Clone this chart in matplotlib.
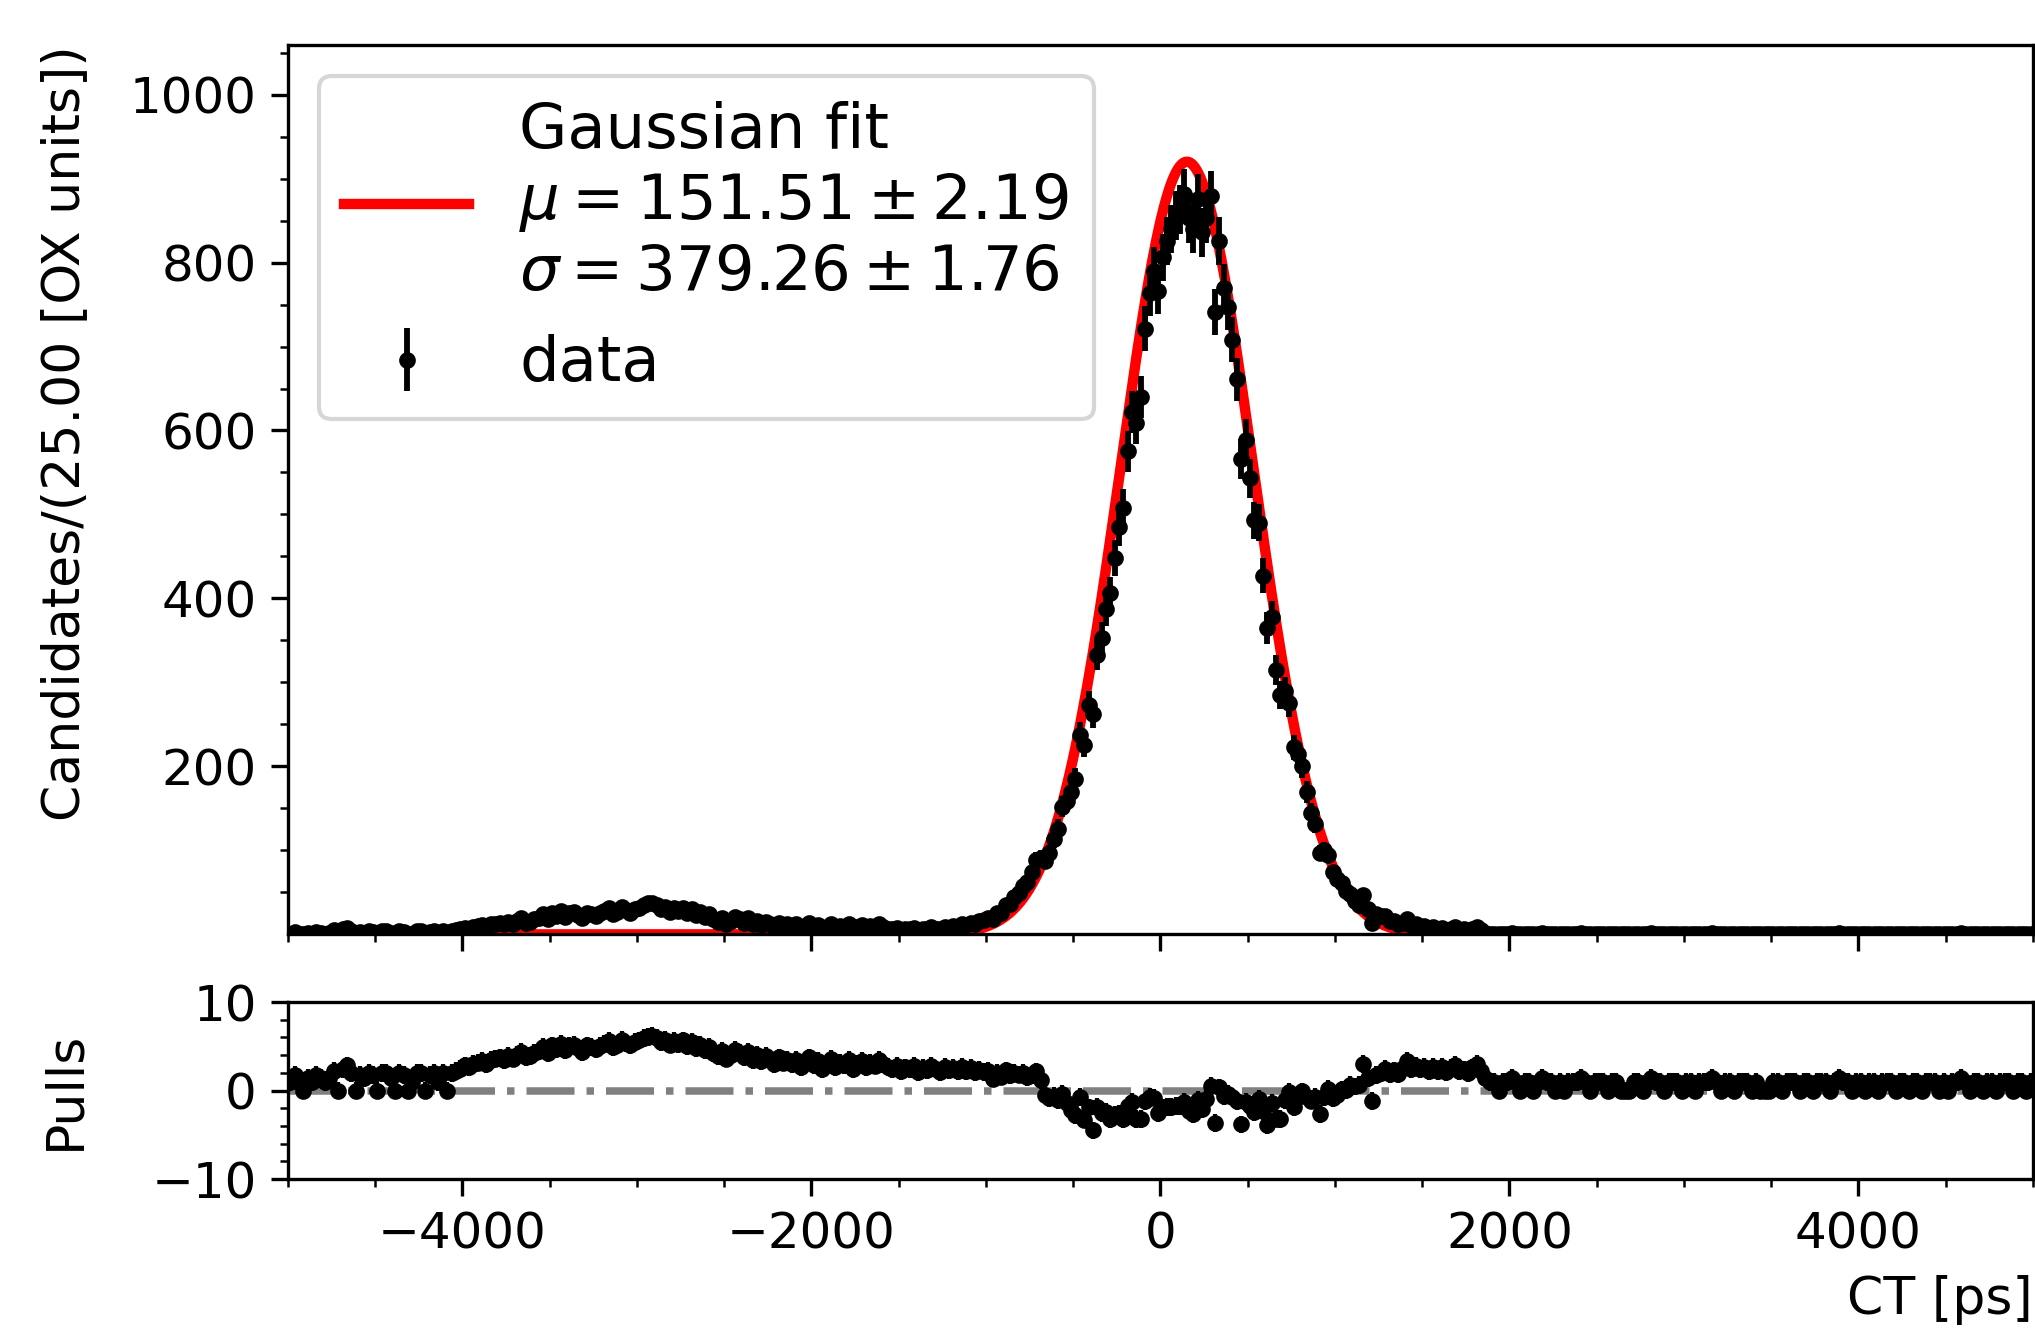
#!/usr/bin/env python
# -*- coding: utf-8 -*-

"""
Gaussian fit of the CT distribution with a pull panel underneath.
"""

import numpy as np
import matplotlib
matplotlib.use("Agg")
import matplotlib.pyplot as plt

X_MIN, X_MAX = -5000, 5000
BIN_WIDTH = 25

# fit result shown in the legend
FIT_MU, FIT_MU_ERR = 151.51, 2.19
FIT_SIGMA, FIT_SIGMA_ERR = 379.26, 1.76
FIT_NORM = 920.0

# candidates per 25 ps bin
COUNTS_LEFT = [  # -5000 .. -1000
    1, 3, 1, 0, 2, 1, 3, 2, 1,
    2, 5, 0, 6, 8, 4, 0, 3, 2,
    4, 3, 0, 4, 4, 2, 0, 4, 3, 0, 1, 4, 4, 0, 3, 4, 1, 4, 0,
    4, 5, 6, 8, 7, 9, 10, 11, 9,
    12, 13, 14, 12, 15, 13, 16, 19, 14, 15, 18,
    20, 24, 18, 26, 22, 28, 21, 25, 27, 23, 19, 26, 24, 22,
    25, 28, 31, 24, 27, 33, 29, 26, 30, 32, 35, 37, 38, 35, 30, 33, 27, 31,
    28, 32, 25, 30, 23, 27, 21, 24,
    18, 15, 20, 13, 16,
    21, 18, 14, 19, 12, 16, 11, 15, 13, 9, 14, 10, 12,
    9, 12, 7, 10, 14, 8, 11, 6, 9, 13, 7, 10, 8, 12, 6, 9, 11, 7, 10, 8, 12, 9, 7,
    6, 8, 5, 7, 6, 8, 5, 7, 6, 9, 7, 6, 9, 8, 10, 9, 12, 11, 14, 13, 16, 17,
]
COUNTS_PEAK = [  # -1000 .. 1500
    20, 18, 25, 26, 35, 36, 44, 49, 58, 62,
    74, 89, 91, 87, 97, 114, 126, 152, 159, 170,
    185, 237, 226, 273, 262, 333, 353, 387, 406, 448,
    485, 508, 575, 622, 609, 640, 721, 764, 790, 766,
    806, 826, 840, 856, 863, 882, 853, 840, 876, 836,
    853, 879, 741, 826, 770, 747, 708, 661, 566, 589,
    543, 493, 490, 427, 365, 378, 315, 285, 290, 276,
    223, 215, 200, 170, 145, 132, 97, 100, 95, 74,
    66, 61, 52, 48, 40, 35, 47, 30, 14, 24,
    22, 22, 16, 16, 12, 14, 18, 11, 12, 9,
]
COUNTS_RIGHT = [  # 1500 .. 5000
    10, 7, 9, 6, 8, 5, 7, 9, 5, 6, 4, 7, 9, 5, 2, 1,
    1, 0, 1, 1, 2, 1, 0, 1, 1, 0, 1, 2, 1, 1, 0, 1, 0, 1, 1, 1, 2, 1, 0, 1,
    1, 1, 0, 1, 1, 0, 0, 0, 1, 1, 0, 1, 2, 1, 1, 0, 1, 1, 1, 0, 1, 1, 0, 1,
    1, 1, 2, 1, 0, 1, 1, 0, 1, 1, 1, 0, 1, 0, 0, 0, 1, 1, 0, 1, 1, 1, 0, 1,
    1, 0, 1, 1, 1, 0, 1, 2, 1, 1, 0, 1, 1, 0, 1, 1, 0, 1, 1, 1, 0, 1, 1, 0,
    1, 1, 0, 1, 1, 1, 0, 1, 0, 1, 1, 2, 1, 0, 1, 1, 0, 1, 1, 0, 1, 1, 1, 0, 1, 1, 0, 1,
]

Y_TOP = 1059


def gaussian(x):
    return FIT_NORM * np.exp(-0.5 * ((x - FIT_MU) / FIT_SIGMA) ** 2)


def main():
    counts = np.array(COUNTS_LEFT + COUNTS_PEAK + COUNTS_RIGHT, dtype=float)
    centres = np.arange(X_MIN + BIN_WIDTH / 2, X_MAX, BIN_WIDTH)
    errors = np.sqrt(np.maximum(counts, 1))
    pulls = (counts - gaussian(centres)) / errors

    x_fit = np.linspace(X_MIN, X_MAX, 2001)

    fig = plt.figure(figsize=(2035 / 300, 1334 / 300), dpi=300)
    ax = fig.add_axes([0.14152, 0.29985, 0.85749, 0.66642])
    ax_pull = fig.add_axes([0.14152, 0.11619, 0.85749, 0.13268])

    # main panel
    fit_line, = ax.plot(x_fit, gaussian(x_fit), color='red', lw=2.5, zorder=2)
    data = ax.errorbar(centres, counts, yerr=np.sqrt(counts), fmt='o', color='black',
                       ms=3, elinewidth=1.4, capsize=0, zorder=3)
    ax.set_xlim(X_MIN, X_MAX)
    ax.set_ylim(0.5, Y_TOP)
    ax.set_yticks([200, 400, 600, 800, 1000])
    ax.set_xticks([-4000, -2000, 0, 2000, 4000])
    ax.minorticks_on()
    ax.tick_params(labelbottom=False, labelsize=12)
    ax.tick_params(which='major', length=4)
    ax.set_ylabel("Candidates/(25.00 [OX units])", loc='top', fontsize=12.5)
    ax.yaxis.set_label_coords(-0.1135, 1.0)

    label = ("Gaussian fit\n"
             rf"$\mu = {FIT_MU:.2f} \pm {FIT_MU_ERR:.2f}$" "\n"
             rf"$\sigma = {FIT_SIGMA:.2f} \pm {FIT_SIGMA_ERR:.2f}$")
    ax.legend([fit_line, data], [label, 'data'], loc='upper left', fontsize=15,
              handlelength=2.0)

    # pull panel
    ax_pull.axhline(0, color='gray', ls='-.', lw=1.8, zorder=1)
    ax_pull.errorbar(centres, pulls, yerr=np.ones_like(pulls), fmt='o', color='black',
                     ms=3, elinewidth=1.0, capsize=0, zorder=3)
    ax_pull.set_xlim(X_MIN, X_MAX)
    ax_pull.set_ylim(-10, 10)
    ax_pull.set_yticks([-10, 0, 10])
    ax_pull.set_xticks([-4000, -2000, 0, 2000, 4000])
    ax_pull.minorticks_on()
    ax_pull.tick_params(labelsize=12)
    ax_pull.tick_params(which='major', length=4)
    ax_pull.set_ylabel("Pulls", fontsize=12.5)
    ax_pull.yaxis.set_label_coords(-0.1135, 0.5)
    ax_pull.set_xlabel("CT [ps]", loc='right', fontsize=12.5)

    fig.savefig('out.png', dpi=300)


if __name__ == "__main__":
    main()
